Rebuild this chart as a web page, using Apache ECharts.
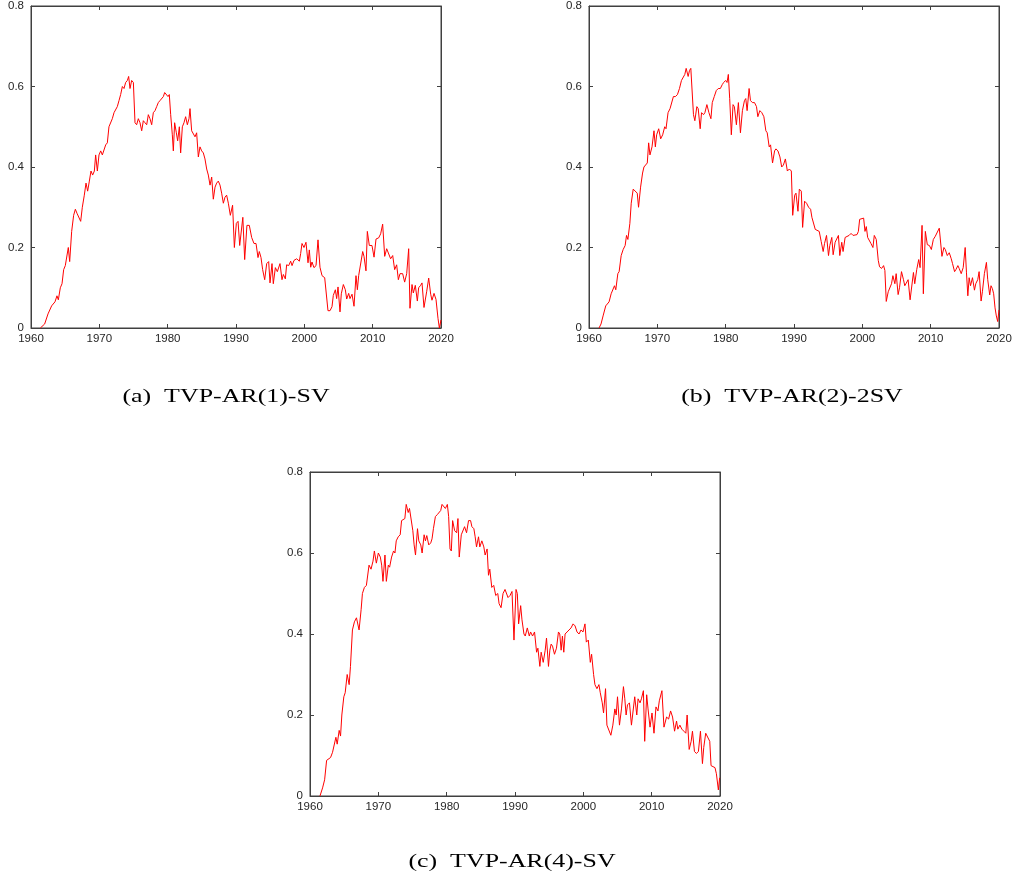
<!DOCTYPE html>
<html>
<head>
<meta charset="utf-8">
<script src="https://cdn.jsdelivr.net/npm/echarts@6/dist/echarts.min.js"></script>
<style>
html,body{margin:0;padding:0;background:#fff;}
#chart{width:1017px;height:888px;}
</style>
</head>
<body>
<div id="chart"></div>
<script>
// ---- data: [year, value] ----
var seriesA = [[1961.37,0],[1962.0,0.01],[1962.49,0.035],[1962.73,0.035],[1963.02,0.055],[1963.51,0.065],[1963.8,0.08],[1964.0,0.07],[1964.29,0.1],[1964.54,0.11],[1964.78,0.145],[1965.02,0.155],[1965.27,0.155],[1965.46,0.2],[1965.66,0.165],[1965.95,0.24],[1966.24,0.28],[1966.49,0.295],[1966.73,0.285],[1967.02,0.285],[1967.27,0.265],[1967.51,0.3],[1967.8,0.33],[1968.05,0.36],[1968.29,0.34],[1968.54,0.365],[1968.78,0.39],[1969.02,0.38],[1969.27,0.39],[1969.46,0.43],[1969.71,0.39],[1969.95,0.43],[1970.2,0.44],[1970.44,0.43],[1970.68,0.43],[1970.93,0.455],[1971.17,0.46],[1971.41,0.5],[1971.66,0.5],[1971.9,0.52],[1972.15,0.535],[1972.39,0.535],[1972.63,0.55],[1972.88,0.565],[1973.12,0.58],[1973.37,0.6],[1973.61,0.595],[1973.85,0.61],[1974.1,0.615],[1974.29,0.625],[1974.49,0.595],[1974.73,0.615],[1974.98,0.61],[1975.22,0.51],[1975.46,0.505],[1975.71,0.52],[1975.95,0.51],[1976.2,0.49],[1976.44,0.515],[1976.68,0.51],[1976.93,0.505],[1977.17,0.53],[1977.41,0.52],[1977.66,0.505],[1977.9,0.535],[1978.15,0.54],[1978.39,0.55],[1978.63,0.56],[1978.88,0.565],[1979.12,0.565],[1979.37,0.575],[1979.56,0.585],[1979.8,0.585],[1980.05,0.575],[1980.24,0.58],[1980.44,0.53],[1980.68,0.48],[1980.83,0.44],[1981.02,0.51],[1981.27,0.485],[1981.46,0.465],[1981.71,0.5],[1981.9,0.435],[1982.15,0.5],[1982.39,0.51],[1982.63,0.525],[1982.88,0.505],[1983.12,0.52],[1983.27,0.545],[1983.51,0.49],[1983.76,0.49],[1984.0,0.475],[1984.24,0.485],[1984.49,0.425],[1984.73,0.45],[1984.98,0.44],[1985.22,0.435],[1985.46,0.42],[1985.71,0.395],[1985.95,0.38],[1986.2,0.355],[1986.44,0.375],[1986.68,0.32],[1986.93,0.35],[1987.17,0.36],[1987.41,0.365],[1987.66,0.355],[1987.9,0.335],[1988.15,0.31],[1988.39,0.325],[1988.63,0.33],[1988.88,0.31],[1989.17,0.28],[1989.5,0.305],[1989.76,0.2],[1990.05,0.26],[1990.3,0.265],[1990.54,0.205],[1991.0,0.275],[1991.27,0.17],[1991.6,0.255],[1991.95,0.255],[1992.29,0.225],[1992.63,0.21],[1992.93,0.21],[1993.22,0.175],[1993.41,0.19],[1993.66,0.175],[1993.9,0.145],[1994.2,0.12],[1994.49,0.16],[1994.78,0.165],[1994.98,0.112],[1995.27,0.16],[1995.46,0.11],[1995.76,0.15],[1996.05,0.14],[1996.44,0.16],[1996.73,0.12],[1996.93,0.133],[1997.22,0.122],[1997.41,0.157],[1997.71,0.155],[1998.0,0.166],[1998.2,0.155],[1998.49,0.168],[1998.88,0.172],[1999.27,0.166],[1999.46,0.185],[1999.66,0.21],[1999.95,0.2],[2000.24,0.213],[2000.54,0.162],[2000.73,0.194],[2000.93,0.151],[2001.12,0.164],[2001.41,0.15],[2001.71,0.155],[2002.0,0.219],[2002.29,0.151],[2002.59,0.13],[2002.98,0.125],[2003.27,0.127],[2003.46,0.043],[2003.76,0.043],[2004.05,0.053],[2004.24,0.081],[2004.54,0.095],[2004.73,0.073],[2004.93,0.102],[2005.22,0.04],[2005.41,0.085],[2005.71,0.108],[2006.0,0.095],[2006.2,0.072],[2006.49,0.086],[2006.68,0.073],[2006.98,0.084],[2007.27,0.054],[2007.56,0.13],[2007.76,0.095],[2007.95,0.13],[2008.24,0.13],[2008.54,0.19],[2008.73,0.178],[2009.02,0.142],[2009.22,0.24],[2009.51,0.205],[2009.9,0.205],[2010.2,0.176],[2010.49,0.221],[2010.88,0.224],[2011.17,0.234],[2011.46,0.258],[2011.76,0.178],[2012.05,0.197],[2012.34,0.197],[2012.63,0.172],[2012.93,0.18],[2013.22,0.145],[2013.51,0.157],[2013.76,0.12],[2014.0,0.135],[2014.39,0.135],[2014.68,0.114],[2014.98,0.135],[2015.27,0.197],[2015.46,0.049],[2015.76,0.108],[2015.95,0.087],[2016.24,0.106],[2016.54,0.067],[2016.73,0.1],[2017.02,0.106],[2017.22,0.112],[2017.51,0.051],[2017.9,0.09],[2018.2,0.124],[2018.49,0.084],[2018.68,0.069],[2018.98,0.086],[2019.27,0.071],[2019.56,0.024],[2019.76,0],[2020.0,0.02]];

var seriesB = [[1961.47,0],[1961.76,0.01],[1962.06,0.03],[1962.45,0.055],[1962.65,0.052],[1962.94,0.065],[1963.24,0.085],[1963.43,0.085],[1963.73,0.105],[1963.92,0.095],[1964.22,0.135],[1964.41,0.14],[1964.71,0.18],[1965.0,0.195],[1965.29,0.205],[1965.49,0.23],[1965.69,0.22],[1965.98,0.26],[1966.18,0.31],[1966.47,0.345],[1966.76,0.345],[1967.06,0.335],[1967.25,0.3],[1967.55,0.35],[1967.84,0.385],[1968.04,0.4],[1968.33,0.4],[1968.53,0.41],[1968.73,0.46],[1968.92,0.43],[1969.22,0.45],[1969.51,0.49],[1969.71,0.45],[1969.9,0.48],[1970.2,0.495],[1970.49,0.47],[1970.78,0.48],[1971.08,0.5],[1971.27,0.495],[1971.57,0.535],[1971.86,0.545],[1972.06,0.545],[1972.35,0.575],[1972.65,0.575],[1972.94,0.58],[1973.24,0.595],[1973.53,0.615],[1973.73,0.615],[1974.02,0.63],[1974.22,0.645],[1974.51,0.625],[1974.71,0.64],[1974.9,0.645],[1975.1,0.645],[1975.29,0.53],[1975.49,0.515],[1975.78,0.55],[1975.98,0.545],[1976.27,0.495],[1976.47,0.535],[1976.76,0.53],[1976.96,0.535],[1977.25,0.555],[1977.55,0.535],[1977.84,0.52],[1978.04,0.56],[1978.33,0.575],[1978.63,0.59],[1978.92,0.595],[1979.22,0.595],[1979.51,0.605],[1979.71,0.61],[1980.0,0.615],[1980.2,0.61],[1980.39,0.63],[1980.59,0.57],[1980.83,0.48],[1981.08,0.555],[1981.27,0.55],[1981.57,0.505],[1981.86,0.56],[1982.16,0.485],[1982.45,0.54],[1982.75,0.565],[1982.94,0.57],[1983.14,0.54],[1983.43,0.595],[1983.63,0.565],[1983.92,0.56],[1984.22,0.56],[1984.51,0.55],[1984.71,0.525],[1985.0,0.54],[1985.29,0.535],[1985.59,0.525],[1985.88,0.49],[1986.08,0.485],[1986.37,0.45],[1986.57,0.455],[1986.86,0.41],[1987.16,0.44],[1987.35,0.445],[1987.65,0.44],[1987.94,0.425],[1988.2,0.4],[1988.45,0.405],[1988.74,0.42],[1989.03,0.39],[1989.32,0.395],[1989.61,0.39],[1989.81,0.28],[1990.1,0.33],[1990.29,0.335],[1990.58,0.29],[1990.78,0.345],[1991.07,0.34],[1991.26,0.25],[1991.55,0.315],[1991.84,0.31],[1992.14,0.3],[1992.43,0.295],[1992.62,0.275],[1992.91,0.275],[1993.11,0.245],[1993.4,0.245],[1993.69,0.24],[1993.98,0.215],[1994.27,0.19],[1994.47,0.21],[1994.76,0.23],[1995.05,0.18],[1995.24,0.205],[1995.53,0.225],[1995.73,0.182],[1996.02,0.213],[1996.31,0.21],[1996.5,0.23],[1996.7,0.18],[1996.99,0.213],[1997.18,0.19],[1997.48,0.225],[1997.77,0.225],[1998.06,0.23],[1998.35,0.235],[1998.64,0.23],[1998.93,0.23],[1999.22,0.232],[1999.42,0.24],[1999.61,0.27],[1999.9,0.267],[2000.19,0.273],[2000.39,0.24],[2000.58,0.252],[2000.78,0.225],[2001.07,0.223],[2001.26,0.21],[2001.55,0.2],[2001.75,0.23],[2002.04,0.22],[2002.33,0.168],[2002.52,0.152],[2002.82,0.148],[2003.11,0.155],[2003.3,0.143],[2003.5,0.066],[2003.79,0.09],[2003.98,0.09],[2004.27,0.11],[2004.47,0.13],[2004.76,0.11],[2004.95,0.135],[2005.24,0.083],[2005.44,0.1],[2005.73,0.14],[2006.02,0.12],[2006.21,0.105],[2006.5,0.105],[2006.7,0.12],[2006.99,0.07],[2007.28,0.07],[2007.48,0.138],[2007.67,0.11],[2007.96,0.145],[2008.25,0.17],[2008.45,0.15],[2008.74,0.255],[2008.93,0.085],[2009.22,0.24],[2009.51,0.207],[2009.81,0.205],[2010.1,0.195],[2010.39,0.22],[2010.68,0.228],[2010.97,0.23],[2011.26,0.248],[2011.46,0.25],[2011.65,0.178],[2011.94,0.2],[2012.14,0.195],[2012.43,0.18],[2012.72,0.187],[2013.01,0.172],[2013.2,0.16],[2013.5,0.14],[2013.69,0.145],[2013.98,0.155],[2014.17,0.148],[2014.47,0.135],[2014.76,0.15],[2015.05,0.2],[2015.24,0.137],[2015.44,0.08],[2015.63,0.125],[2015.83,0.105],[2016.12,0.125],[2016.41,0.094],[2016.6,0.11],[2016.89,0.12],[2017.09,0.14],[2017.38,0.067],[2017.57,0.09],[2017.86,0.135],[2018.16,0.163],[2018.35,0.12],[2018.64,0.082],[2018.83,0.105],[2019.03,0.098],[2019.22,0.085],[2019.42,0.05],[2019.61,0.03],[2019.81,0.016],[2020.0,0.045]];

var seriesC = [[1961.46,0],[1961.84,0.02],[1962.14,0.04],[1962.43,0.088],[1962.72,0.087],[1963.01,0.095],[1963.3,0.108],[1963.5,0.108],[1963.79,0.145],[1963.98,0.128],[1964.27,0.162],[1964.47,0.148],[1964.66,0.2],[1964.95,0.245],[1965.15,0.255],[1965.44,0.3],[1965.73,0.275],[1965.92,0.32],[1966.21,0.41],[1966.5,0.43],[1966.8,0.44],[1966.99,0.44],[1967.18,0.41],[1967.48,0.46],[1967.67,0.5],[1967.96,0.515],[1968.25,0.52],[1968.45,0.52],[1968.64,0.57],[1968.93,0.56],[1969.22,0.58],[1969.42,0.605],[1969.71,0.575],[1970.0,0.6],[1970.29,0.59],[1970.49,0.57],[1970.68,0.53],[1970.97,0.595],[1971.17,0.53],[1971.46,0.57],[1971.65,0.565],[1971.94,0.59],[1972.23,0.605],[1972.43,0.6],[1972.62,0.63],[1972.91,0.64],[1973.2,0.645],[1973.4,0.68],[1973.69,0.68],[1973.88,0.685],[1974.08,0.72],[1974.37,0.7],[1974.56,0.71],[1974.85,0.71],[1975.05,0.655],[1975.24,0.62],[1975.44,0.595],[1975.73,0.66],[1975.92,0.63],[1976.21,0.62],[1976.41,0.6],[1976.7,0.645],[1976.89,0.63],[1977.09,0.643],[1977.38,0.62],[1977.67,0.625],[1977.86,0.635],[1978.06,0.66],[1978.35,0.69],[1978.64,0.695],[1978.83,0.695],[1979.13,0.705],[1979.32,0.72],[1979.61,0.72],[1979.81,0.71],[1980.1,0.72],[1980.29,0.69],[1980.49,0.61],[1980.68,0.605],[1980.87,0.68],[1981.17,0.655],[1981.46,0.65],[1981.65,0.685],[1981.84,0.59],[1982.14,0.645],[1982.43,0.645],[1982.62,0.665],[1982.91,0.65],[1983.2,0.68],[1983.5,0.68],[1983.69,0.665],[1983.98,0.66],[1984.17,0.64],[1984.37,0.615],[1984.66,0.64],[1984.85,0.615],[1985.15,0.63],[1985.44,0.615],[1985.63,0.595],[1985.92,0.61],[1986.12,0.545],[1986.31,0.56],[1986.6,0.515],[1986.89,0.52],[1987.18,0.495],[1987.48,0.5],[1987.67,0.475],[1987.96,0.465],[1988.25,0.5],[1988.54,0.51],[1988.79,0.51],[1988.98,0.49],[1989.27,0.495],[1989.56,0.505],[1989.85,0.385],[1990.15,0.51],[1990.34,0.5],[1990.53,0.425],[1990.83,0.47],[1991.02,0.435],[1991.31,0.4],[1991.5,0.395],[1991.8,0.415],[1992.09,0.395],[1992.28,0.405],[1992.57,0.395],[1992.86,0.405],[1993.16,0.355],[1993.35,0.365],[1993.64,0.32],[1993.83,0.355],[1994.13,0.33],[1994.42,0.36],[1994.61,0.39],[1994.9,0.32],[1995.1,0.36],[1995.29,0.375],[1995.49,0.37],[1995.78,0.35],[1996.07,0.365],[1996.36,0.405],[1996.55,0.4],[1996.75,0.36],[1996.94,0.395],[1997.14,0.355],[1997.33,0.4],[1997.62,0.405],[1997.91,0.405],[1998.2,0.415],[1998.5,0.425],[1998.79,0.42],[1999.08,0.405],[1999.37,0.4],[1999.66,0.41],[1999.95,0.405],[2000.24,0.425],[2000.44,0.38],[2000.73,0.385],[2001.02,0.33],[2001.21,0.35],[2001.5,0.3],[2001.7,0.275],[2001.99,0.265],[2002.28,0.275],[2002.48,0.255],[2002.77,0.23],[2002.96,0.205],[2003.25,0.265],[2003.45,0.175],[2003.74,0.175],[2004.03,0.15],[2004.32,0.175],[2004.61,0.215],[2004.81,0.2],[2005.0,0.245],[2005.29,0.175],[2005.58,0.215],[2005.87,0.27],[2006.07,0.24],[2006.26,0.2],[2006.46,0.225],[2006.75,0.23],[2007.04,0.175],[2007.23,0.175],[2007.52,0.245],[2007.82,0.2],[2008.01,0.24],[2008.3,0.23],[2008.5,0.24],[2008.79,0.26],[2008.98,0.135],[2009.27,0.25],[2009.47,0.215],[2009.76,0.17],[2010.05,0.205],[2010.34,0.155],[2010.63,0.22],[2010.92,0.21],[2011.12,0.235],[2011.5,0.26],[2011.8,0.17],[2011.99,0.17],[2012.18,0.195],[2012.48,0.19],[2012.77,0.21],[2013.06,0.195],[2013.35,0.16],[2013.64,0.185],[2013.83,0.165],[2014.13,0.175],[2014.42,0.165],[2014.71,0.16],[2015.0,0.155],[2015.19,0.2],[2015.49,0.115],[2015.78,0.135],[2015.97,0.16],[2016.26,0.11],[2016.55,0.105],[2016.84,0.11],[2017.14,0.16],[2017.43,0.08],[2017.62,0.12],[2017.91,0.155],[2018.2,0.155],[2018.5,0.135],[2018.69,0.075],[2018.98,0.075],[2019.27,0.07],[2019.47,0.055],[2019.76,0.015],[2019.95,0.045]];

var captions = ['(a)  TVP-AR(1)-SV', '(b)  TVP-AR(2)-2SV', '(c)  TVP-AR(4)-SV'];
var xRange = [1960, 2020];
var yRange = [0, 0.8];
var xStep = 10;
var yStep = 0.2;

// ---- layout ----
var grids = [
  {left: 31, top: 4, width: 410, height: 324},
  {left: 589, top: 4, width: 410, height: 324},
  {left: 310, top: 472, width: 410, height: 324}
];
var captionPos = [[226, 397], [792, 397], [512, 862]];
var allData = [seriesA, seriesB, seriesC];

var axisColor = '#404040';
var labelStyle = {color: '#262626', fontSize: 11.5, fontFamily: '"Liberation Sans", Arial, sans-serif'};

var xAxes = [], yAxes = [], series = [], graphics = [];
grids.forEach(function (g, i) {
  g.show = true; g.borderColor = axisColor; g.borderWidth = 1; g.backgroundColor = '#fff';
  var common = {
    gridIndex: i, type: 'value',
    axisLine: {show: true, onZero: false, lineStyle: {color: axisColor, width: 1}},
    axisTick: {show: true, inside: true, length: 4, lineStyle: {color: axisColor}},
    splitLine: {show: false}
  };
  xAxes.push(Object.assign({}, common, {
    position: 'bottom', min: xRange[0], max: xRange[1], interval: xStep,
    axisLabel: Object.assign({margin: 5, formatter: function (v) { return String(v); }}, labelStyle)
  }));
  xAxes.push(Object.assign({}, common, {
    position: 'top', min: xRange[0], max: xRange[1], interval: xStep,
    axisLabel: {show: false}
  }));
  yAxes.push(Object.assign({}, common, {
    position: 'left', min: yRange[0], max: yRange[1], interval: yStep,
    axisLabel: Object.assign({margin: 7, formatter: function (v) { return String(+v.toFixed(1)); }}, labelStyle)
  }));
  yAxes.push(Object.assign({}, common, {
    position: 'right', min: yRange[0], max: yRange[1], interval: yStep,
    axisLabel: {show: false}
  }));
  series.push({
    type: 'line', xAxisIndex: 2 * i, yAxisIndex: 2 * i,
    data: allData[i], showSymbol: false, symbol: 'none',
    lineStyle: {color: '#ff0000', width: 1}, itemStyle: {color: '#ff0000'},
    animation: false, silent: true
  });
  graphics.push({
    type: 'text', x: captionPos[i][0], y: captionPos[i][1], scaleX: 1.4,
    style: {
      text: captions[i], fill: '#000',
      fontSize: 18.5, fontFamily: '"Liberation Serif", "Times New Roman", serif',
      textAlign: 'center', textVerticalAlign: 'middle'
    }
  });
});

var chart = echarts.init(document.getElementById('chart'), null, {renderer: 'canvas'});
chart.setOption({
  animation: false,
  backgroundColor: '#fff',
  grid: grids,
  xAxis: xAxes,
  yAxis: yAxes,
  series: series,
  graphic: graphics
});
</script>
</body>
</html>
